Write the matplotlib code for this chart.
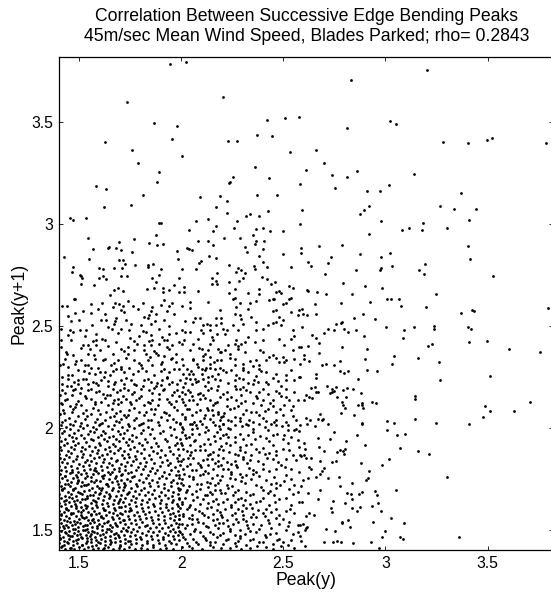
import matplotlib
matplotlib.use("Agg")
import matplotlib.pyplot as plt
import numpy as np

plt.rcParams['font.family'] = ['Liberation Sans', 'DejaVu Sans']

title_lines = ["Correlation Between Successive Edge Bending Peaks",
               "45m/sec Mean Wind Speed, Blades Parked; rho= 0.2843"]
x_label = "Peak(y)"
y_label = "Peak(y+1)"
x_ticks = [1.5, 2, 2.5, 3, 3.5]
y_ticks = [1.5, 2, 2.5, 3, 3.5]
x_limits = [1.4, 3.82]
y_limits = [1.4, 3.82]

# (Peak(y), Peak(y+1)) pairs, region by region
sparse_top_left = [(1.945,3.787),(2.023,3.797),(1.735,3.603),(2.203,3.626),(1.869,3.495),(1.977,3.485),(2.419,3.511),(2.510,3.521),(2.578,3.526),(1.627,3.405),(1.956,3.420),(2.229,3.407),(2.274,3.408),(2.369,3.439),(2.445,3.433),(1.758,3.366),(2.002,3.336),(2.534,3.357),(1.786,3.300),(1.891,3.259),(2.360,3.282),(1.883,3.207),(2.255,3.234),(2.239,3.210),(2.234,3.203),(2.428,3.226),(2.580,3.197),(1.584,3.187),(1.633,3.174),(1.812,3.146),(2.093,3.136),(2.192,3.138),(2.369,3.144),(2.469,3.146),(1.622,3.084),(1.752,3.095),(2.170,3.087),(2.222,3.116),(2.593,3.072),(1.455,3.030),(1.471,3.023),(1.532,3.031),(1.893,3.005),(1.903,3.005),(2.071,3.016),(2.133,3.026),(2.222,3.054),(2.274,3.018),(2.318,3.041),(2.339,3.049),(2.380,3.039),(2.427,3.066),(2.581,3.000),(2.170,2.993),(2.036,2.974),(1.544,2.934),(1.769,2.928),(1.875,2.946),(2.083,2.920),(2.133,2.920),(2.157,2.967),(2.211,2.933),(2.256,2.980),(2.286,2.934),(2.351,2.949),(2.364,2.975),(2.401,2.980),(2.435,2.967),(2.498,2.969),(2.359,2.905),(2.364,2.918),(2.403,2.918),(1.646,2.890),(1.641,2.884),(1.683,2.884),(1.693,2.915),(1.706,2.874),(1.568,2.879),(1.841,2.907),(1.881,2.897),(1.909,2.905),(1.977,2.870),(2.026,2.885),(2.037,2.880),(2.055,2.874),(2.154,2.897),(2.310,2.887),(2.321,2.862),(2.401,2.880),(2.497,2.854),(2.588,2.882),(2.588,2.861),(1.424,2.838),(1.549,2.830),(1.761,2.864),(1.696,2.825),(1.716,2.825),(1.727,2.805),(1.984,2.830),(2.097,2.821),(2.086,2.810),(2.138,2.843),(2.169,2.833),(2.383,2.843),(2.401,2.813),(1.468,2.789),(1.463,2.767),(1.502,2.752),(1.511,2.744),(1.513,2.736),(1.508,2.707),(1.596,2.784),(1.618,2.779),(1.596,2.736),(1.618,2.744),(1.631,2.731),(1.575,2.703),(1.672,2.784),(1.711,2.784),(1.705,2.744),(1.734,2.744),(1.774,2.800),(1.836,2.802),(1.836,2.790),(1.862,2.803),(1.899,2.779),(1.891,2.751),(1.857,2.738),(1.878,2.716),(2.003,2.780),(1.987,2.736),(2.071,2.780),(2.173,2.759),(2.152,2.738),(2.169,2.723),(2.151,2.707),(2.173,2.705),(2.235,2.802),(2.276,2.784),(2.292,2.775),(2.268,2.764),(2.310,2.759),(2.304,2.736),(2.284,2.720),(2.234,2.718),(2.357,2.797),(2.362,2.782),(2.422,2.789),(2.396,2.741),(2.422,2.730),(2.438,2.705),(2.461,2.716),(2.537,2.790),(2.529,2.698),(1.649,2.652),(1.669,2.677),(1.688,2.685),(1.714,2.674),(1.831,2.680),(1.865,2.688),(1.911,2.685),(1.909,2.667),(1.938,2.675),(1.963,2.703),(1.990,2.666),(2.015,2.666),(2.016,2.690),(2.080,2.671),(2.232,2.662),(2.261,2.682),(2.328,2.664),(2.383,2.680),(2.383,2.657),(2.464,2.667),(2.479,2.672),(2.487,2.664),(2.545,2.687),(1.479,2.634),(2.539,2.636),(2.453,2.634),(2.263,2.636)]

sparse_top_right = [(3.204,3.757),(2.829,3.707),(3.021,3.507),(3.054,3.492),(2.813,3.475),(3.283,3.402),(3.406,3.400),(3.497,3.413),(3.523,3.423),(3.787,3.400),(2.660,3.367),(2.700,3.300),(2.611,3.266),(2.736,3.244),(2.860,3.264),(2.814,3.233),(3.138,3.248),(2.751,3.180),(2.909,3.162),(2.974,3.162),(3.018,3.193),(3.368,3.156),(2.876,3.052),(2.894,3.072),(2.920,3.089),(3.265,3.089),(3.337,3.075),(3.441,3.077),(2.976,3.016),(3.182,3.005),(3.178,2.974),(3.080,2.972),(3.117,2.980),(3.301,2.982),(3.410,3.020),(2.920,2.954),(2.676,2.892),(2.785,2.898),(3.402,2.892),(2.873,2.854),(2.976,2.838),(3.020,2.857),(2.731,2.838),(2.622,2.813),(2.637,2.795),(2.718,2.810),(3.415,2.830),(3.195,2.807),(3.033,2.797),(2.977,2.787),(2.971,2.774),(2.858,2.775),(3.164,2.774),(3.189,2.757),(2.702,2.754),(3.526,2.746),(2.792,2.710),(2.899,2.697),(2.984,2.687),(2.617,2.677),(2.623,2.674),(2.663,2.666),(2.707,2.656),(2.834,2.657),(3.248,2.656),(3.008,2.633),(3.029,2.633),(3.065,2.633)]

right_middle = [(2.653,2.609),(2.782,2.612),(2.922,2.617),(3.075,2.599),(3.199,2.594),(2.591,2.584),(2.596,2.558),(2.617,2.555),(2.660,2.558),(2.845,2.540),(2.889,2.558),(2.951,2.533),(3.370,2.563),(3.425,2.581),(3.435,2.576),(3.798,2.591),(2.593,2.496),(2.699,2.466),(2.721,2.484),(2.748,2.479),(2.759,2.509),(2.780,2.514),(2.788,2.519),(2.796,2.484),(2.816,2.470),(2.857,2.479),(2.894,2.450),(3.002,2.497),(3.090,2.481),(3.086,2.439),(3.140,2.494),(3.236,2.501),(3.236,2.488),(3.402,2.497),(3.420,2.484),(2.640,2.455),(2.661,2.442),(2.677,2.419),(2.588,2.396),(2.621,2.402),(2.785,2.396),(2.910,2.386),(3.208,2.402),(3.230,2.414),(3.409,2.420),(3.495,2.427),(3.604,2.386),(3.759,2.371),(2.600,2.357),(2.601,2.337),(2.626,2.327),(2.676,2.366),(2.689,2.307),(2.708,2.312),(2.748,2.307),(2.777,2.330),(2.901,2.340),(3.044,2.353),(3.031,2.314),(3.158,2.342),(3.261,2.321),(2.580,2.312),(2.777,2.278),(2.796,2.270),(2.816,2.278),(2.909,2.283),(2.958,2.278),(2.660,2.263),(2.660,2.245),(2.580,2.252),(2.865,2.239),(3.268,2.235),(3.510,2.257),(2.636,2.196),(2.655,2.201),(2.661,2.175),(2.668,2.176),(2.713,2.206),(2.737,2.190),(2.750,2.181),(2.759,2.199),(2.792,2.186),(2.810,2.198),(2.841,2.193),(2.729,2.170),(2.737,2.176),(2.612,2.160),(2.625,2.152),(2.638,2.147),(2.603,2.135),(2.764,2.152),(2.806,2.152),(2.881,2.172),(2.785,2.127),(2.790,2.114),(2.803,2.098),(2.887,2.122),(2.884,2.113),(2.866,2.113),(2.891,2.099),(2.935,2.129),(2.953,2.121),(2.783,2.072),(2.847,2.063),(3.147,2.158),(3.147,2.140),(3.487,2.108),(3.513,2.085),(3.477,2.054),(3.630,2.085),(3.708,2.126),(2.681,2.067),(2.669,2.042),(2.687,2.040),(2.694,2.042),(2.612,2.047),(2.630,2.037),(2.617,2.021),(2.653,2.009),(2.580,2.014),(2.720,2.021),(2.748,1.981),(2.883,2.026),(2.883,2.017),(3.008,2.036),(3.008,1.990),(3.044,2.024),(3.055,1.965),(3.096,1.968),(3.147,2.044),(3.246,2.026),(3.409,2.018),(2.860,1.965),(2.669,1.950),(2.728,1.945),(2.805,1.936),(2.600,1.927),(2.901,1.914),(2.605,1.895),(2.581,1.867),(2.588,1.862),(2.600,1.867),(2.673,1.905),(2.698,1.885),(2.765,1.882),(2.779,1.891),(2.791,1.885),(2.804,1.898),(2.797,1.873),(3.073,1.900),(3.160,1.885),(3.213,1.870),(2.612,1.854),(2.633,1.852),(2.625,1.808),(2.633,1.798),(2.740,1.834),(2.759,1.839),(2.681,1.837),(2.880,1.826),(3.016,1.847),(2.985,1.816),(2.699,1.805),(2.687,1.787),(2.681,1.772),(2.658,1.760),(2.619,1.752),(2.598,1.742),(2.720,1.752),(2.772,1.757),(2.920,1.788),(2.915,1.752),(2.906,1.746),(3.301,1.760),(2.585,1.714),(2.777,1.714),(2.837,1.729),(2.621,1.678),(2.681,1.695),(2.668,1.649),(2.811,1.678),(2.832,1.677),(2.834,1.652),(2.870,1.675),(2.885,1.687),(2.950,1.692),(2.961,1.672),(3.052,1.693),(2.591,1.638),(2.741,1.641),(2.803,1.629),(2.735,1.606),(2.740,1.585),(2.834,1.605),(2.876,1.613),(2.863,1.590),(2.932,1.616),(2.963,1.631),(2.980,1.593),(2.624,1.580),(2.612,1.569),(2.650,1.574),(2.785,1.539),(2.787,1.534),(2.818,1.546),(2.824,1.511),(2.937,1.539),(3.025,1.557),(3.090,1.531),(2.580,1.523),(2.596,1.526),(2.616,1.513),(2.608,1.498),(2.612,1.506),(2.708,1.503),(2.754,1.492),(2.997,1.493),(2.983,1.462),(2.580,1.470),(2.585,1.444),(2.608,1.421),(2.700,1.438),(2.741,1.438),(2.761,1.443),(2.780,1.441),(2.840,1.433),(2.930,1.439),(2.967,1.408),(3.073,1.466),(3.086,1.456),(3.360,1.462)]

upper_left = [(1.474,2.632),(1.613,2.615),(1.678,2.614),(1.738,2.622),(1.811,2.614),(1.916,2.630),(1.953,2.615),(1.414,2.599),(1.443,2.597),(1.557,2.610),(1.664,2.594),(1.714,2.599),(1.762,2.599),(1.859,2.594),(1.900,2.605),(1.940,2.599),(1.520,2.574),(1.557,2.564),(1.706,2.577),(1.722,2.569),(1.787,2.586),(1.851,2.574),(1.876,2.561),(1.843,2.553),(1.932,2.574),(1.965,2.561),(1.447,2.548),(1.625,2.558),(1.460,2.525),(1.498,2.528),(1.609,2.532),(1.633,2.528),(1.681,2.541),(1.678,2.525),(1.670,2.509),(1.816,2.545),(1.871,2.525),(1.854,2.512),(1.916,2.532),(1.940,2.499),(1.803,2.504),(1.754,2.509),(1.706,2.484),(1.660,2.484),(1.892,2.484),(1.455,2.479),(1.471,2.469),(1.503,2.479),(1.536,2.482),(1.447,2.455),(1.584,2.463),(1.746,2.479),(1.811,2.476),(1.795,2.453),(1.851,2.455),(1.940,2.460),(1.973,2.466),(1.411,2.433),(1.568,2.427),(1.584,2.430),(1.625,2.430),(1.681,2.422),(1.770,2.427),(1.843,2.427),(1.859,2.430),(1.916,2.430),(1.932,2.433),(1.544,2.405),(1.584,2.405),(1.520,2.405),(1.819,2.405),(1.851,2.405),(1.892,2.414),(1.956,2.405),(1.989,2.422),(1.411,2.397),(1.552,2.389),(1.600,2.381),(1.706,2.389),(1.738,2.397),(1.770,2.384),(1.816,2.381),(1.867,2.378),(1.940,2.389),(1.973,2.365),(1.439,2.365),(1.471,2.356),(1.544,2.365),(1.665,2.365),(1.738,2.361),(1.827,2.361),(1.884,2.356),(1.916,2.351),(1.431,2.340),(1.511,2.332),(1.576,2.340),(1.625,2.340),(1.689,2.335),(1.770,2.332),(1.835,2.335),(1.948,2.340),(1.479,2.315),(1.544,2.307),(1.406,2.307),(1.447,2.299),(1.557,2.296),(1.657,2.307),(1.706,2.299),(1.746,2.296),(1.803,2.307),(1.859,2.307),(1.900,2.315),(1.973,2.324),(1.524,2.279),(1.600,2.274),(1.625,2.274),(1.665,2.279),(1.681,2.291),(1.722,2.274),(1.787,2.279),(1.827,2.279),(1.900,2.279),(1.940,2.274),(1.965,2.291),(1.576,2.263),(1.463,2.258),(1.418,2.250),(1.447,2.242),(1.495,2.233),(1.536,2.242),(1.568,2.225),(1.609,2.237),(1.641,2.230),(1.706,2.237),(1.754,2.233),(1.819,2.233),(1.851,2.225),(1.908,2.233),(1.932,2.247),(1.956,2.225),(1.439,2.204),(1.460,2.204),(1.495,2.214),(1.544,2.217),(1.592,2.209),(1.641,2.204),(1.673,2.214),(1.722,2.214),(1.778,2.209),(1.811,2.204),(1.876,2.204),(1.900,2.209),(1.940,2.214),(1.981,2.214),(1.479,2.193),(1.511,2.197),(1.414,2.184),(1.544,2.184),(1.584,2.176),(1.617,2.168),(1.665,2.193),(1.698,2.184),(1.738,2.188),(1.770,2.176),(1.843,2.184),(1.867,2.197),(1.916,2.193),(1.965,2.176),(1.406,2.160),(1.463,2.160),(1.528,2.155),(1.649,2.160),(1.714,2.155),(1.803,2.155),(1.892,2.168),(1.431,2.135),(1.495,2.132),(1.560,2.143),(1.609,2.127),(1.673,2.135),(1.706,2.127),(1.730,2.143),(1.778,2.138),(1.835,2.127),(1.859,2.135),(1.932,2.143),(1.973,2.132),(1.414,2.116),(1.455,2.106),(1.511,2.111),(1.576,2.119),(1.641,2.111),(1.689,2.116),(1.754,2.119),(1.819,2.111),(1.884,2.111),(1.948,2.119),(1.479,2.102),(1.422,2.086),(1.463,2.078),(1.536,2.089),(1.592,2.086),(1.633,2.078),(1.681,2.073),(1.746,2.086),(1.795,2.078),(1.851,2.094),(1.916,2.078),(1.981,2.086),(1.406,2.066),(1.495,2.057),(1.560,2.066),(1.673,2.057),(1.722,2.062),(1.819,2.062),(1.867,2.070),(1.940,2.062),(1.431,2.040),(1.479,2.034),(1.528,2.045),(1.576,2.029),(1.625,2.040),(1.681,2.034),(1.706,2.045),(1.770,2.037),(1.835,2.040),(1.884,2.029),(1.932,2.040),(1.973,2.029),(1.455,2.021),(1.600,2.017),(1.738,2.017),(1.803,2.021)]

upper_left_extra = [(1.418,2.031),(1.452,2.049),(1.507,2.026),(1.541,2.058),(1.589,2.044),(1.613,2.023),(1.652,2.052),(1.697,2.029),(1.728,2.054),(1.781,2.047),(1.812,2.025),(1.853,2.041),(1.902,2.053),(1.958,2.044),(1.427,2.074),(1.468,2.093),(1.517,2.071),(1.568,2.097),(1.604,2.069),(1.659,2.091),(1.702,2.082),(1.739,2.064),(1.771,2.098),(1.826,2.079),(1.873,2.091),(1.925,2.071),(1.967,2.101),(1.409,2.124),(1.443,2.141),(1.483,2.118),(1.532,2.147),(1.577,2.129),(1.628,2.149),(1.664,2.121),(1.691,2.144),(1.748,2.126),(1.795,2.148),(1.846,2.121),(1.889,2.142),(1.941,2.126),(1.431,2.169),(1.469,2.187),(1.502,2.171),(1.556,2.193),(1.597,2.182),(1.636,2.163),(1.684,2.174),(1.721,2.196),(1.759,2.166),(1.803,2.189),(1.857,2.172),(1.912,2.186),(1.953,2.163),(1.414,2.213),(1.476,2.226),(1.521,2.241),(1.583,2.219),(1.624,2.248),(1.677,2.227),(1.732,2.244),(1.768,2.216),(1.838,2.241),(1.879,2.219),(1.928,2.249),(1.448,2.261),(1.494,2.283),(1.547,2.269),(1.592,2.292),(1.651,2.259),(1.706,2.287),(1.763,2.266),(1.809,2.293),(1.866,2.262),(1.917,2.288),(1.423,2.314),(1.484,2.327),(1.529,2.309),(1.617,2.331),(1.672,2.319),(1.729,2.343),(1.792,2.317),(1.845,2.347),(1.907,2.322),(1.957,2.341),(1.437,2.372),(1.508,2.391),(1.571,2.358),(1.641,2.404),(1.719,2.377),(1.783,2.412),(1.877,2.369),(1.929,2.397),(1.462,2.432),(1.528,2.451),(1.613,2.437),(1.692,2.466),(1.749,2.442),(1.828,2.471),(1.906,2.446),(1.413,2.487),(1.562,2.507),(1.643,2.493),(1.731,2.528),(1.836,2.541),(1.482,2.563),(1.593,2.586),(1.693,2.608)]

upper_middle = [(2.044,2.618),(2.133,2.618),(2.254,2.635),(2.286,2.614),(2.338,2.614),(2.364,2.622),(2.429,2.630),(2.448,2.635),(2.529,2.635),(2.513,2.614),(2.497,2.607),(2.003,2.597),(2.044,2.589),(2.270,2.594),(2.327,2.586),(2.189,2.577),(2.464,2.577),(2.448,2.574),(2.537,2.569),(2.578,2.581),(2.286,2.553),(2.262,2.561),(2.295,2.537),(2.343,2.545),(2.068,2.541),(2.092,2.541),(2.170,2.541),(2.197,2.541),(2.481,2.545),(2.497,2.528),(2.570,2.553),(2.019,2.525),(2.057,2.520),(2.105,2.504),(2.128,2.512),(2.141,2.504),(2.170,2.504),(2.197,2.515),(2.206,2.487),(2.222,2.479),(2.254,2.504),(2.303,2.512),(2.367,2.520),(2.424,2.504),(2.448,2.515),(2.464,2.520),(2.489,2.504),(2.003,2.479),(2.019,2.471),(2.044,2.471),(2.096,2.479),(2.105,2.466),(2.141,2.482),(2.173,2.463),(2.214,2.463),(2.278,2.479),(2.367,2.479),(2.400,2.487),(2.545,2.479),(2.553,2.450),(2.149,2.446),(2.015,2.433),(2.084,2.438),(2.157,2.430),(2.270,2.430),(2.311,2.422),(2.327,2.446),(2.400,2.430),(2.359,2.422),(2.481,2.438),(2.537,2.438),(2.003,2.414),(2.060,2.410),(2.141,2.410),(2.230,2.405),(2.262,2.414),(2.295,2.414),(2.505,2.405),(2.578,2.397),(2.044,2.381),(2.100,2.389),(2.133,2.381),(2.181,2.389),(2.197,2.373),(2.214,2.381),(2.238,2.365),(2.278,2.389),(2.311,2.373),(2.400,2.373),(2.448,2.356),(2.497,2.348),(2.545,2.381),(2.117,2.365),(2.105,2.351),(2.141,2.348),(2.003,2.340),(2.060,2.332),(2.108,2.332),(2.173,2.332),(2.197,2.332),(2.262,2.340),(2.367,2.332),(2.416,2.335),(2.464,2.345),(2.513,2.332),(2.553,2.340),(2.011,2.307),(2.076,2.315),(2.141,2.315),(2.262,2.307),(2.303,2.315),(2.351,2.302),(2.383,2.307),(2.481,2.324),(2.505,2.324),(1.987,2.291),(2.028,2.291),(2.084,2.299),(2.100,2.291),(2.117,2.283),(2.141,2.296),(2.165,2.291),(2.189,2.296),(2.206,2.283),(2.246,2.286),(2.303,2.283),(2.327,2.274),(2.383,2.291),(2.416,2.274),(2.537,2.283),(2.011,2.266),(2.040,2.263),(2.060,2.263),(2.100,2.266),(2.133,2.250),(2.149,2.253),(2.181,2.266),(2.270,2.258),(2.367,2.253),(2.464,2.263),(2.513,2.258),(2.578,2.250),(2.044,2.242),(2.068,2.242),(2.108,2.242),(1.995,2.233),(2.019,2.220),(2.052,2.217),(2.084,2.230),(2.133,2.225),(2.189,2.233),(2.262,2.233),(2.303,2.242),(2.327,2.220),(2.375,2.225),(2.416,2.225),(2.473,2.230),(2.513,2.237),(2.553,2.233),(2.011,2.201),(2.117,2.204),(2.181,2.204),(2.262,2.204),(2.303,2.201),(2.351,2.214),(2.424,2.214),(2.489,2.204),(1.979,2.184),(2.003,2.176),(2.019,2.165),(2.044,2.176),(2.084,2.168),(2.133,2.188),(2.173,2.184),(2.222,2.176),(2.270,2.193),(2.319,2.184),(2.383,2.176),(2.424,2.168),(2.464,2.181),(2.513,2.193),(2.553,2.176),(1.987,2.155),(2.052,2.155),(2.108,2.160),(2.189,2.152),(2.295,2.160),(2.367,2.155),(2.489,2.155),(2.003,2.143),(2.036,2.135),(2.060,2.135),(2.092,2.143),(2.141,2.138),(2.173,2.127),(2.222,2.143),(2.270,2.135),(2.311,2.132),(2.351,2.122),(2.400,2.135),(2.448,2.135),(2.529,2.135),(2.570,2.138),(2.019,2.111),(2.076,2.116),(2.157,2.111),(2.222,2.106),(2.278,2.106),(2.392,2.111),(2.448,2.106),(2.505,2.111),(2.545,2.106),(2.036,2.094),(2.092,2.086),(2.125,2.099),(2.133,2.086),(2.181,2.078),(2.238,2.094),(2.319,2.086),(2.367,2.078),(2.424,2.094),(2.464,2.078),(2.537,2.086),(2.003,2.070),(2.052,2.062),(2.117,2.062),(2.157,2.062),(2.181,2.066),(2.206,2.057),(2.262,2.053),(2.303,2.066),(2.383,2.062),(2.497,2.062),(2.545,2.057),(2.019,2.045),(2.092,2.034),(2.141,2.045),(2.189,2.037),(2.230,2.040),(2.286,2.034),(2.351,2.029),(2.416,2.034),(2.464,2.040),(2.513,2.029),(2.561,2.037),(1.995,2.024),(2.052,2.021),(2.206,2.021),(2.319,2.021),(2.440,2.017)]

upper_middle_extra = [(2.018,2.052),(2.063,2.031),(2.112,2.049),(2.154,2.027),(2.197,2.051),(2.243,2.034),(2.289,2.049),(2.331,2.041),(2.398,2.047),(2.452,2.028),(2.029,2.093),(2.073,2.078),(2.151,2.089),(2.209,2.073),(2.259,2.097),(2.341,2.076),(2.411,2.084),(2.483,2.093),(2.008,2.128),(2.117,2.146),(2.163,2.124),(2.244,2.151),(2.292,2.121),(2.373,2.147),(2.433,2.121),(2.512,2.152),(2.031,2.187),(2.094,2.171),(2.146,2.196),(2.207,2.168),(2.288,2.193),(2.337,2.174),(2.398,2.193),(2.477,2.172),(2.022,2.243),(2.071,2.226),(2.163,2.238),(2.229,2.221),(2.281,2.247),(2.354,2.233),(2.451,2.247),(2.047,2.279),(2.123,2.294),(2.218,2.276),(2.302,2.296),(2.393,2.279),(2.059,2.336),(2.161,2.321),(2.241,2.341),(2.336,2.329),(2.429,2.348),(2.086,2.393),(2.188,2.371),(2.279,2.401),(2.388,2.381)]

lower_middle = [(1.995,2.021),(2.044,2.021),(2.100,2.021),(2.165,2.013),(2.206,2.021),(2.262,2.016),(2.327,2.013),(2.383,2.021),(2.464,2.016),(2.521,2.013),(2.561,1.996),(2.011,1.996),(2.052,1.993),(2.076,2.000),(2.133,1.988),(2.189,1.996),(2.238,1.993),(2.351,1.996),(2.424,1.988),(2.521,1.988),(2.553,1.988),(2.003,1.980),(2.019,1.963),(2.052,1.972),(2.117,1.980),(2.173,1.980),(2.206,1.967),(2.286,1.972),(2.351,1.980),(2.448,1.967),(2.505,1.963),(2.578,1.983),(1.995,1.947),(2.036,1.955),(2.068,1.939),(2.133,1.947),(2.189,1.950),(2.230,1.955),(2.303,1.947),(2.359,1.944),(2.416,1.950),(2.497,1.947),(2.537,1.955),(2.570,1.939),(2.003,1.918),(2.044,1.918),(2.092,1.911),(2.141,1.923),(2.197,1.911),(2.238,1.914),(2.286,1.906),(2.319,1.918),(2.400,1.901),(2.448,1.914),(2.578,1.906),(2.011,1.898),(2.028,1.885),(2.068,1.890),(2.117,1.890),(2.157,1.882),(2.206,1.890),(2.262,1.873),(2.311,1.882),(2.367,1.895),(2.408,1.873),(2.432,1.878),(2.464,1.885),(2.529,1.890),(2.545,1.865),(1.987,1.865),(2.044,1.868),(2.133,1.865),(2.181,1.868),(2.278,1.865),(2.303,1.857),(2.343,1.865),(2.464,1.865),(2.011,1.846),(2.060,1.852),(2.108,1.841),(2.149,1.849),(2.181,1.836),(2.222,1.832),(2.246,1.824),(2.303,1.846),(2.335,1.841),(2.375,1.836),(2.448,1.846),(2.473,1.832),(2.513,1.849),(2.561,1.841),(1.995,1.819),(2.044,1.824),(2.092,1.816),(2.133,1.816),(2.197,1.816),(2.270,1.819),(2.400,1.824),(2.489,1.816),(2.011,1.800),(2.052,1.791),(2.117,1.787),(2.133,1.780),(2.157,1.800),(2.206,1.800),(2.246,1.783),(2.286,1.775),(2.351,1.791),(2.367,1.783),(2.432,1.787),(2.464,1.800),(2.537,1.800),(2.578,1.783),(1.987,1.770),(2.036,1.764),(2.092,1.767),(2.173,1.767),(2.319,1.767),(2.383,1.764),(2.513,1.770),(2.003,1.750),(2.060,1.747),(2.125,1.734),(2.141,1.731),(2.189,1.742),(2.238,1.754),(2.262,1.747),(2.295,1.737),(2.343,1.747),(2.416,1.742),(2.464,1.731),(2.505,1.737),(2.537,1.750),(2.011,1.721),(2.076,1.726),(2.165,1.721),(2.222,1.718),(2.367,1.721),(2.440,1.726),(2.553,1.721),(1.995,1.701),(2.028,1.693),(2.092,1.701),(2.141,1.685),(2.189,1.693),(2.230,1.705),(2.278,1.693),(2.319,1.685),(2.400,1.693),(2.424,1.682),(2.464,1.705),(2.529,1.701),(2.570,1.685),(2.052,1.677),(2.117,1.672),(2.149,1.677),(2.197,1.682),(2.254,1.669),(2.351,1.677),(2.456,1.669),(1.987,1.652),(2.019,1.656),(2.076,1.660),(2.108,1.649),(2.157,1.639),(2.222,1.652),(2.278,1.649),(2.311,1.644),(2.367,1.636),(2.400,1.656),(2.481,1.649),(2.513,1.656),(2.578,1.636),(2.003,1.628),(2.044,1.623),(2.092,1.628),(2.181,1.628),(2.246,1.623),(2.303,1.619),(2.335,1.628),(2.432,1.623),(2.537,1.619),(1.995,1.606),(2.028,1.600),(2.068,1.603),(2.125,1.606),(2.173,1.595),(2.214,1.603),(2.278,1.600),(2.319,1.606),(2.375,1.595),(2.416,1.603),(2.464,1.600),(2.513,1.590),(2.011,1.579),(2.052,1.574),(2.100,1.583),(2.157,1.579),(2.197,1.570),(2.262,1.583),(2.303,1.574),(2.351,1.579),(2.400,1.583),(2.481,1.574),(2.553,1.583),(1.987,1.554),(2.036,1.557),(2.076,1.551),(2.133,1.562),(2.173,1.554),(2.222,1.546),(2.270,1.554),(2.319,1.541),(2.367,1.562),(2.424,1.546),(2.464,1.557),(2.529,1.538),(2.003,1.529),(2.052,1.529),(2.108,1.534),(2.165,1.524),(2.206,1.534),(2.254,1.529),(2.351,1.529),(2.392,1.521),(2.481,1.529),(2.570,1.524),(2.019,1.508),(2.068,1.505),(2.133,1.513),(2.181,1.508),(2.238,1.505),(2.286,1.497),(2.327,1.508),(2.383,1.502),(2.440,1.508),(2.513,1.497),(1.995,1.488),(2.044,1.480),(2.092,1.488),(2.157,1.480),(2.206,1.485),(2.262,1.475),(2.311,1.480),(2.367,1.488),(2.408,1.475),(2.464,1.485),(2.545,1.480),(2.011,1.464),(2.060,1.456),(2.117,1.459),(2.173,1.464),(2.230,1.456),(2.286,1.459),(2.351,1.452),(2.416,1.464),(2.481,1.456),(2.537,1.447),(2.028,1.436),(2.084,1.431),(2.141,1.439),(2.206,1.431),(2.262,1.436),(2.319,1.426),(2.383,1.439),(2.448,1.431),(2.497,1.439),(2.003,1.415),(2.052,1.410),(2.157,1.415),(2.238,1.410),(2.335,1.410),(2.416,1.415),(2.489,1.420),(2.553,1.410)]

lower_middle_extra = [(2.006,2.004),(2.071,2.012),(2.122,2.003),(2.187,2.009),(2.231,2.001),(2.298,2.007),(2.411,2.003),(2.492,2.009),(2.024,1.951),(2.088,1.968),(2.159,1.959),(2.218,1.971),(2.263,1.953),(2.327,1.965),(2.386,1.958),(2.471,1.971),(1.998,1.927),(2.061,1.934),(2.113,1.921),(2.167,1.937),(2.219,1.925),(2.264,1.931),(2.341,1.922),(2.428,1.936),(2.522,1.924),(2.047,1.879),(2.093,1.893),(2.139,1.874),(2.187,1.897),(2.236,1.881),(2.288,1.891),(2.381,1.879),(2.497,1.896),(2.001,1.837),(2.031,1.853),(2.083,1.829),(2.128,1.845),(2.164,1.828),(2.206,1.851),(2.262,1.838),(2.321,1.829),(2.418,1.853),(2.026,1.812),(2.072,1.794),(2.098,1.806),(2.178,1.813),(2.228,1.796),(2.271,1.809),(2.331,1.804),(2.401,1.796),(2.508,1.808),(2.014,1.773),(2.057,1.757),(2.109,1.771),(2.152,1.752),(2.199,1.764),(2.246,1.771),(2.297,1.758),(2.353,1.773),(2.452,1.759),(1.997,1.727),(2.038,1.712),(2.098,1.723),(2.131,1.708),(2.178,1.729),(2.249,1.716),(2.314,1.727),(2.391,1.709),(2.482,1.719),(2.021,1.683),(2.071,1.691),(2.124,1.671),(2.167,1.694),(2.213,1.678),(2.261,1.687),(2.338,1.668),(2.437,1.691),(2.548,1.673),(2.004,1.637),(2.059,1.647),(2.133,1.631),(2.169,1.651),(2.203,1.638),(2.261,1.634),(2.292,1.653),(2.384,1.642),(2.457,1.634),(2.039,1.611),(2.089,1.594),(2.147,1.612),(2.192,1.588),(2.243,1.609),(2.297,1.592),(2.348,1.607),(2.441,1.589),(2.532,1.601),(2.009,1.568),(2.052,1.552),(2.112,1.571),(2.158,1.549),(2.201,1.562),(2.247,1.571),(2.301,1.553),(2.343,1.563),(2.409,1.568),(2.497,1.551),(2.028,1.521),(2.081,1.538),(2.121,1.517),(2.187,1.531),(2.229,1.516),(2.276,1.538),(2.321,1.523),(2.428,1.531),(2.521,1.516),(2.003,1.477),(2.061,1.493),(2.106,1.471),(2.139,1.489),(2.188,1.472),(2.241,1.493),(2.289,1.468),(2.337,1.491),(2.437,1.481),(2.571,1.489),(2.018,1.452),(2.072,1.441),(2.119,1.448),(2.167,1.437),(2.218,1.451),(2.278,1.443),(2.339,1.448),(2.401,1.437),(2.469,1.449),(2.037,1.419),(2.101,1.404),(2.139,1.423),(2.197,1.412),(2.266,1.421),(2.293,1.406),(2.371,1.418),(2.451,1.407),(2.522,1.425)]

lower_left = [(1.409,2.013),(1.437,2.004),(1.471,2.016),(1.502,2.007),(1.539,2.012),(1.566,2.002),(1.598,2.015),(1.641,2.008),(1.672,2.013),(1.708,2.004),(1.746,2.011),(1.793,2.016),(1.838,2.006),(1.889,2.012),(1.944,2.005),
(1.404,1.993),(1.428,1.985),(1.455,1.996),(1.493,1.988),(1.518,1.997),(1.552,1.983),(1.585,1.992),(1.617,1.986),(1.659,1.995),(1.691,1.984),(1.733,1.991),(1.768,1.997),(1.815,1.987),(1.858,1.994),(1.912,1.985),(1.965,1.992),
(1.416,1.974),(1.449,1.966),(1.477,1.975),(1.511,1.963),(1.544,1.972),(1.573,1.978),(1.609,1.967),(1.628,1.975),(1.664,1.962),(1.699,1.971),(1.722,1.977),(1.761,1.965),(1.802,1.973),(1.847,1.968),(1.897,1.976),(1.951,1.964),
(1.402,1.953),(1.431,1.945),(1.463,1.956),(1.486,1.948),(1.525,1.952),(1.557,1.943),(1.591,1.955),(1.622,1.947),(1.648,1.957),(1.681,1.944),(1.715,1.952),(1.742,1.946),(1.779,1.955),(1.823,1.943),(1.866,1.951),(1.921,1.947),(1.973,1.955),
(1.411,1.934),(1.442,1.926),(1.469,1.937),(1.497,1.925),(1.533,1.932),(1.568,1.938),(1.596,1.927),(1.635,1.933),(1.667,1.923),(1.694,1.936),(1.728,1.929),(1.757,1.935),(1.795,1.924),(1.834,1.932),(1.877,1.927),(1.929,1.936),(1.981,1.926),
(1.406,1.905),(1.425,1.914),(1.458,1.906),(1.481,1.916),(1.515,1.908),(1.549,1.913),(1.579,1.904),(1.603,1.915),(1.644,1.907),(1.676,1.912),(1.702,1.903),(1.737,1.914),(1.769,1.907),(1.808,1.916),(1.851,1.905),(1.887,1.911),(1.938,1.904),(1.969,1.915),
(1.413,1.893),(1.446,1.885),(1.474,1.896),(1.507,1.887),(1.529,1.894),(1.561,1.884),(1.592,1.892),(1.626,1.897),(1.653,1.886),(1.688,1.893),(1.721,1.885),(1.748,1.896),(1.784,1.888),(1.819,1.894),(1.861,1.884),(1.903,1.891),(1.947,1.886),(1.986,1.895),
(1.401,1.874),(1.434,1.866),(1.461,1.876),(1.492,1.864),(1.521,1.873),(1.553,1.868),(1.588,1.877),(1.613,1.865),(1.639,1.872),(1.671,1.878),(1.709,1.866),(1.741,1.873),(1.775,1.864),(1.803,1.875),(1.842,1.868),(1.881,1.876),(1.923,1.865),(1.958,1.872),
(1.408,1.853),(1.427,1.845),(1.452,1.856),(1.483,1.847),(1.512,1.855),(1.541,1.844),(1.571,1.852),(1.599,1.857),(1.624,1.846),(1.658,1.853),(1.686,1.843),(1.718,1.851),(1.746,1.857),(1.778,1.845),(1.816,1.853),(1.853,1.847),(1.894,1.856),(1.931,1.844),(1.977,1.851),
(1.415,1.834),(1.441,1.826),(1.468,1.835),(1.499,1.823),(1.527,1.832),(1.559,1.837),(1.584,1.825),(1.615,1.833),(1.647,1.827),(1.679,1.836),(1.704,1.824),(1.733,1.831),(1.763,1.837),(1.797,1.826),(1.829,1.834),(1.868,1.825),(1.908,1.833),(1.944,1.828),(1.984,1.835),
(1.403,1.813),(1.432,1.806),(1.459,1.815),(1.488,1.804),(1.518,1.812),(1.547,1.817),(1.576,1.805),(1.606,1.813),(1.637,1.807),(1.663,1.816),(1.697,1.804),(1.727,1.811),(1.754,1.817),(1.786,1.806),(1.821,1.814),(1.857,1.805),(1.898,1.812),(1.936,1.816),(1.971,1.806),
(1.411,1.794),(1.437,1.786),(1.466,1.795),(1.494,1.783),(1.523,1.792),(1.551,1.797),(1.582,1.786),(1.611,1.793),(1.643,1.784),(1.669,1.796),(1.694,1.788),(1.724,1.795),(1.752,1.783),(1.781,1.791),(1.812,1.797),(1.846,1.786),(1.879,1.793),(1.914,1.785),(1.949,1.794),(1.983,1.787),
(1.405,1.773),(1.429,1.765),(1.456,1.776),(1.485,1.767),(1.509,1.774),(1.538,1.764),(1.566,1.772),(1.594,1.777),(1.622,1.766),(1.652,1.773),(1.683,1.763),(1.711,1.771),(1.739,1.777),(1.771,1.765),(1.801,1.773),(1.837,1.768),(1.872,1.776),(1.905,1.764),(1.942,1.772),(1.975,1.767),
(1.414,1.754),(1.441,1.746),(1.472,1.755),(1.497,1.744),(1.529,1.752),(1.556,1.757),(1.585,1.745),(1.617,1.753),(1.645,1.747),(1.674,1.756),(1.703,1.744),(1.735,1.751),(1.761,1.757),(1.792,1.746),(1.826,1.754),(1.859,1.745),(1.891,1.752),(1.927,1.756),(1.958,1.745),(1.988,1.753),
(1.402,1.733),(1.433,1.725),(1.461,1.736),(1.489,1.727),(1.516,1.734),(1.544,1.723),(1.575,1.732),(1.603,1.737),(1.631,1.726),(1.662,1.733),(1.691,1.724),(1.721,1.731),(1.749,1.737),(1.779,1.726),(1.811,1.734),(1.844,1.728),(1.883,1.736),(1.918,1.724),(1.952,1.732),(1.979,1.727),
(1.409,1.714),(1.427,1.706),(1.453,1.715),(1.481,1.704),(1.507,1.712),(1.533,1.717),(1.561,1.705),(1.589,1.713),(1.614,1.707),(1.641,1.716),(1.668,1.704),(1.697,1.711),(1.726,1.717),(1.755,1.706),(1.784,1.714),(1.817,1.705),(1.849,1.712),(1.884,1.716),(1.917,1.706),(1.948,1.713),(1.982,1.707),
(1.416,1.694),(1.444,1.686),(1.468,1.695),(1.495,1.683),(1.524,1.692),(1.549,1.697),(1.578,1.686),(1.606,1.693),(1.633,1.684),(1.659,1.696),(1.688,1.688),(1.715,1.695),(1.744,1.683),(1.772,1.691),(1.804,1.697),(1.838,1.686),(1.866,1.693),(1.901,1.685),(1.934,1.694),(1.961,1.687),(1.989,1.695),
(1.404,1.673),(1.431,1.665),(1.458,1.676),(1.484,1.667),(1.512,1.674),(1.539,1.664),(1.568,1.672),(1.595,1.677),(1.621,1.666),(1.648,1.673),(1.679,1.663),(1.706,1.671),(1.733,1.677),(1.763,1.665),(1.793,1.673),(1.824,1.668),(1.856,1.676),(1.889,1.664),(1.921,1.672),(1.955,1.667),(1.984,1.675),
(1.411,1.654),(1.436,1.646),(1.463,1.655),(1.488,1.644),(1.514,1.652),(1.541,1.657),(1.566,1.645),(1.592,1.653),(1.619,1.647),(1.646,1.656),(1.673,1.644),(1.699,1.651),(1.727,1.657),(1.752,1.646),(1.781,1.654),(1.809,1.645),(1.841,1.652),(1.871,1.656),(1.903,1.645),(1.933,1.653),(1.962,1.647),(1.987,1.656),
(1.403,1.633),(1.429,1.625),(1.452,1.636),(1.478,1.627),(1.503,1.634),(1.531,1.623),(1.558,1.632),(1.584,1.637),(1.611,1.626),(1.637,1.633),(1.664,1.624),(1.691,1.631),(1.717,1.637),(1.744,1.626),(1.773,1.634),(1.801,1.628),(1.832,1.636),(1.862,1.624),(1.894,1.632),(1.925,1.627),(1.953,1.635),(1.981,1.625),
(1.409,1.614),(1.434,1.606),(1.461,1.615),(1.486,1.604),(1.511,1.612),(1.537,1.617),(1.563,1.605),(1.589,1.613),(1.617,1.607),(1.643,1.616),(1.669,1.604),(1.696,1.611),(1.724,1.617),(1.751,1.606),(1.779,1.614),(1.807,1.605),(1.836,1.612),(1.866,1.616),(1.897,1.606),(1.927,1.613),(1.957,1.607),(1.985,1.615),
(1.402,1.594),(1.424,1.586),(1.447,1.595),(1.471,1.583),(1.497,1.592),(1.521,1.597),(1.546,1.586),(1.571,1.593),(1.596,1.584),(1.622,1.596),(1.648,1.588),(1.674,1.595),(1.701,1.583),(1.727,1.591),(1.754,1.597),(1.782,1.586),(1.811,1.593),(1.841,1.585),(1.872,1.594),(1.904,1.587),(1.933,1.595),(1.961,1.584),(1.986,1.592),
(1.413,1.573),(1.437,1.565),(1.459,1.576),(1.483,1.567),(1.508,1.574),(1.532,1.564),(1.557,1.572),(1.583,1.577),(1.607,1.566),(1.633,1.573),(1.659,1.563),(1.686,1.571),(1.712,1.577),(1.739,1.565),(1.767,1.573),(1.794,1.568),(1.823,1.576),(1.853,1.564),(1.884,1.572),(1.914,1.567),(1.943,1.575),(1.969,1.565),(1.989,1.573),
(1.405,1.554),(1.428,1.546),(1.451,1.555),(1.474,1.544),(1.498,1.552),(1.522,1.557),(1.545,1.545),(1.569,1.553),(1.594,1.547),(1.618,1.556),(1.643,1.544),(1.668,1.551),(1.693,1.557),(1.719,1.546),(1.745,1.554),(1.772,1.545),(1.799,1.552),(1.827,1.556),(1.857,1.545),(1.886,1.553),(1.916,1.547),(1.944,1.556),(1.967,1.546),(1.988,1.553),
(1.411,1.533),(1.434,1.525),(1.456,1.536),(1.479,1.527),(1.503,1.534),(1.527,1.523),(1.551,1.532),(1.575,1.537),(1.599,1.526),(1.624,1.533),(1.649,1.524),(1.674,1.531),(1.699,1.537),(1.725,1.526),(1.752,1.534),(1.778,1.528),(1.806,1.536),(1.834,1.524),(1.863,1.532),(1.893,1.527),(1.922,1.535),(1.949,1.525),(1.972,1.533),(1.991,1.528),
(1.403,1.514),(1.425,1.506),(1.448,1.515),(1.471,1.504),(1.494,1.512),(1.517,1.517),(1.541,1.505),(1.565,1.513),(1.588,1.507),(1.612,1.516),(1.637,1.504),(1.662,1.511),(1.687,1.517),(1.713,1.506),(1.739,1.514),(1.766,1.505),(1.793,1.512),(1.821,1.516),(1.849,1.506),(1.878,1.513),(1.906,1.507),(1.935,1.515),(1.961,1.505),(1.983,1.512),
(1.409,1.494),(1.431,1.486),(1.452,1.495),(1.474,1.483),(1.496,1.492),(1.519,1.497),(1.542,1.486),(1.564,1.493),(1.587,1.484),(1.611,1.496),(1.634,1.488),(1.658,1.495),(1.682,1.483),(1.706,1.491),(1.731,1.497),(1.756,1.486),(1.782,1.493),(1.809,1.485),(1.836,1.494),(1.864,1.487),(1.892,1.495),(1.919,1.484),(1.946,1.492),(1.968,1.487),(1.989,1.495),
(1.402,1.473),(1.423,1.465),(1.445,1.476),(1.467,1.467),(1.489,1.474),(1.511,1.464),(1.534,1.472),(1.556,1.477),(1.579,1.466),(1.602,1.473),(1.626,1.463),(1.649,1.471),(1.673,1.477),(1.697,1.465),(1.722,1.473),(1.747,1.468),(1.773,1.476),(1.799,1.464),(1.826,1.472),(1.854,1.467),(1.882,1.475),(1.909,1.465),(1.936,1.473),(1.962,1.468),(1.985,1.476),
(1.407,1.454),(1.428,1.446),(1.449,1.455),(1.471,1.444),(1.493,1.452),(1.515,1.457),(1.537,1.445),(1.559,1.453),(1.582,1.447),(1.606,1.456),(1.629,1.444),(1.653,1.451),(1.677,1.457),(1.701,1.446),(1.726,1.454),(1.751,1.445),(1.777,1.452),(1.803,1.456),(1.831,1.446),(1.858,1.453),(1.886,1.447),(1.913,1.455),(1.941,1.445),(1.966,1.452),(1.988,1.447),
(1.404,1.433),(1.426,1.425),(1.447,1.436),(1.469,1.427),(1.491,1.434),(1.513,1.423),(1.536,1.432),(1.558,1.437),(1.581,1.426),(1.604,1.433),(1.628,1.424),(1.652,1.431),(1.676,1.437),(1.701,1.426),(1.727,1.434),(1.753,1.428),(1.779,1.436),(1.806,1.424),(1.834,1.432),(1.863,1.427),(1.892,1.435),(1.921,1.425),(1.949,1.433),(1.976,1.428),
(1.409,1.414),(1.431,1.406),(1.453,1.412),(1.476,1.404),(1.499,1.413),(1.522,1.407),(1.546,1.415),(1.569,1.403),(1.593,1.411),(1.617,1.406),(1.642,1.414),(1.667,1.404),(1.693,1.412),(1.719,1.407),(1.746,1.415),(1.773,1.403),(1.801,1.411),(1.831,1.406),(1.862,1.413),(1.894,1.405),(1.927,1.412),(1.958,1.406)]

lower_left_extra = [(1.418,1.418),(1.443,1.437),(1.461,1.409),(1.487,1.448),(1.514,1.426),(1.538,1.461),(1.562,1.418),(1.591,1.441),(1.622,1.412),(1.658,1.439),(1.702,1.418),(1.741,1.446),(1.408,1.461),(1.434,1.483),(1.456,1.469),(1.479,1.502),(1.503,1.478),(1.527,1.499),(1.551,1.468),(1.574,1.488),(1.615,1.479),(1.647,1.503),(1.688,1.472),(1.733,1.491),(1.421,1.519),(1.442,1.543),(1.466,1.521),(1.491,1.538),(1.512,1.561),(1.538,1.522),(1.563,1.547),(1.586,1.518),(1.608,1.563),(1.639,1.538),(1.681,1.521),(1.716,1.549),(1.412,1.578),(1.438,1.603),(1.462,1.581),(1.486,1.618),(1.509,1.589),(1.535,1.606),(1.559,1.578),(1.582,1.621),(1.627,1.598),(1.664,1.583),(1.703,1.611),(1.745,1.593),(1.427,1.641),(1.451,1.662),(1.477,1.643),(1.503,1.681),(1.528,1.649),(1.553,1.672),(1.579,1.641),(1.604,1.681),(1.651,1.663),(1.694,1.642),(1.737,1.678),(1.416,1.702),(1.446,1.723),(1.472,1.698),(1.497,1.741),(1.526,1.719),(1.558,1.738),(1.597,1.703),(1.638,1.726),(1.684,1.741),(1.721,1.709),(1.431,1.762),(1.463,1.781),(1.492,1.758),(1.533,1.776),(1.571,1.793),(1.612,1.764),(1.659,1.783),(1.706,1.767)]

regions = [sparse_top_left, sparse_top_right, right_middle,
           upper_left, upper_left_extra, upper_middle, upper_middle_extra,
           lower_middle, lower_middle_extra, lower_left, lower_left_extra]
pts = np.array([p for region in regions for p in region])
peak_y = pts[:, 0]
peak_next = pts[:, 1]

fig = plt.figure(figsize=(5.51, 5.99), dpi=100)
ax = fig.add_axes([0.1065, 0.0818, 0.897, 0.8225])
ax.plot(peak_y, peak_next, linestyle='none', marker='o', markersize=2.0,
        markeredgewidth=0, color='black')
ax.set_xlim(x_limits)
ax.set_ylim(y_limits)
ax.set_xticks(x_ticks)
ax.set_yticks(y_ticks)
ax.set_xticklabels([f"{t:g}" for t in x_ticks])
ax.set_yticklabels([f"{t:g}" for t in y_ticks])
ax.tick_params(direction='in', top=True, right=True, length=3.2, width=0.6,
               labelsize=11.3, pad=4, colors='black')
for s in ax.spines.values():
    s.set_linewidth(0.9)
    s.set_color('black')
ax.set_xlabel(x_label, fontsize=12.7, va='top')
ax.xaxis.set_label_coords(0.5, -0.0455)
ax.set_ylabel(y_label, fontsize=12.7, va='center')
ax.yaxis.set_label_coords(-0.080, 0.5)
fig.text(0.557, 1 - 16.7 / 599, title_lines[0], fontsize=12.7, ha='center', va='center')
fig.text(0.557, 1 - 36.7 / 599, title_lines[1], fontsize=12.7, ha='center', va='center')
fig.savefig("out.png", dpi=100)
